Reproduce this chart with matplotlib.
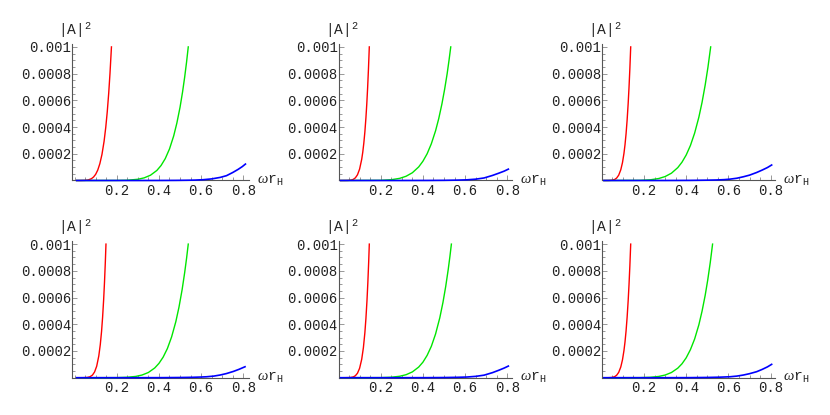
import matplotlib
matplotlib.use("Agg")
import matplotlib.pyplot as plt
from matplotlib.ticker import MultipleLocator, FixedLocator, FixedFormatter

plt.rcParams['font.family'] = ['Liberation Mono', 'DejaVu Sans']
plt.rcParams['mathtext.fontset'] = 'custom'
plt.rcParams['mathtext.rm'] = 'Liberation Mono'
plt.rcParams['mathtext.it'] = 'Liberation Serif:italic'

# ---------------- data ----------------
# Panel 1 (top left)
P1_RED_X = [0.01, 0.03, 0.05, 0.065, 0.08, 0.09, 0.10, 0.11, 0.12, 0.13, 0.14, 0.148, 0.155, 0.162, 0.168, 0.175]
P1_RED_Y = [0, 0.0000001, 0.000001, 0.0000043, 0.0000135, 0.0000258, 0.000046, 0.0000778, 0.000126, 0.000195,
            0.000293, 0.000398, 0.000513, 0.000654, 0.0008, 0.001]
P1_GRN_X = [0.01, 0.2, 0.25, 0.30, 0.33, 0.36, 0.39, 0.41, 0.43, 0.45, 0.47, 0.485, 0.50, 0.512, 0.522, 0.531, 0.539]
P1_GRN_Y = [0, 0.0000004, 0.000002, 0.0000092, 0.0000197, 0.0000396, 0.000075, 0.000112, 0.000164, 0.000236,
            0.000334, 0.00043, 0.000548, 0.000663, 0.000774, 0.000887, 0.001]
P1_BLU_X = [0.01, 0.30, 0.40, 0.48, 0.53, 0.57, 0.61, 0.65, 0.69, 0.72, 0.75, 0.775, 0.795, 0.81]
P1_BLU_Y = [0, 0, 0.0000002, 0.0000008, 0.0000018, 0.000003, 0.000006, 0.000012, 0.000023, 0.000036, 0.00006,
            0.000083, 0.000104, 0.000123]

# Panel 2 (top middle)
P2_RED_X = [0.01, 0.03, 0.045, 0.06, 0.07, 0.08, 0.09, 0.10, 0.11, 0.115, 0.12, 0.125, 0.13, 0.134, 0.138, 0.142, 0.146]
P2_RED_Y = [0, 0.0000001, 0.0000005, 0.0000031, 0.0000084, 0.00002, 0.000043, 0.0000854, 0.000159, 0.000212,
            0.00028, 0.000364, 0.00047, 0.000572, 0.000693, 0.000835, 0.001]
P2_GRN_X = [0.01, 0.2, 0.25, 0.29, 0.32, 0.35, 0.38, 0.40, 0.42, 0.44, 0.46, 0.475, 0.49, 0.503, 0.515, 0.524, 0.532]
P2_GRN_Y = [0, 0.0000013, 0.0000059, 0.000016, 0.0000316, 0.000058, 0.0001015, 0.000144, 0.0002, 0.000275,
            0.000372, 0.000463, 0.000572, 0.000683, 0.0008, 0.000902, 0.001]
P2_BLU_X = [0.01, 0.30, 0.42, 0.50, 0.56, 0.608, 0.65, 0.69, 0.73, 0.76, 0.785, 0.805]
P2_BLU_Y = [0, 0, 0.0000003, 0.0000012, 0.0000028, 0.000005, 0.00001, 0.000019, 0.000038, 0.000055, 0.00007, 0.000085]

# Panel 3 (top right)
P3_RED_X = [0.01, 0.03, 0.045, 0.06, 0.07, 0.08, 0.09, 0.098, 0.105, 0.11, 0.115, 0.12, 0.125, 0.129, 0.133, 0.137]
P3_RED_Y = [0, 0.0000001, 0.0000013, 0.000007, 0.0000178, 0.0000396, 0.0000805, 0.000134, 0.000203, 0.000268,
            0.00035, 0.000452, 0.000577, 0.000697, 0.000837, 0.001]
P3_GRN_X = [0.01, 0.18, 0.23, 0.27, 0.30, 0.33, 0.36, 0.38, 0.40, 0.42, 0.44, 0.46, 0.475, 0.49, 0.503, 0.516]
P3_GRN_Y = [0, 0.0000011, 0.0000052, 0.0000149, 0.0000295, 0.0000547, 0.0000963, 0.000137, 0.000191, 0.000262,
            0.000355, 0.000474, 0.000584, 0.000715, 0.000847, 0.001]
P3_BLU_X = [0.01, 0.30, 0.42, 0.50, 0.544, 0.58, 0.607, 0.64, 0.671, 0.70, 0.734, 0.76, 0.785, 0.805]
P3_BLU_Y = [0, 0, 0.0000008, 0.0000025, 0.000004, 0.0000065, 0.00001, 0.000017, 0.000028, 0.00004, 0.00006,
            0.000078, 0.000097, 0.000116]

# Panel 4 (bottom left)
P4_RED_X = [0.01, 0.03, 0.045, 0.06, 0.073, 0.085, 0.095, 0.105, 0.115, 0.122, 0.128, 0.133, 0.138, 0.142, 0.146, 0.149]
P4_RED_Y = [0, 0.0000001, 0.0000004, 0.0000017, 0.0000068, 0.0000197, 0.000043, 0.000086, 0.000163, 0.000247,
            0.000345, 0.000452, 0.000585, 0.000714, 0.000867, 0.001]
P4_GRN_X = [0.01, 0.2, 0.25, 0.29, 0.32, 0.35, 0.38, 0.40, 0.42, 0.44, 0.46, 0.48, 0.495, 0.51, 0.522, 0.531, 0.539]
P4_GRN_Y = [0, 0.0000006, 0.0000032, 0.0000096, 0.00002, 0.000039, 0.0000727, 0.000107, 0.000154, 0.000218,
            0.000305, 0.000419, 0.000528, 0.00066, 0.000787, 0.000894, 0.001]
P4_BLU_X = [0.01, 0.30, 0.42, 0.50, 0.56, 0.60, 0.626, 0.66, 0.69, 0.72, 0.753, 0.78, 0.808]
P4_BLU_Y = [0, 0, 0.0000004, 0.0000015, 0.000003, 0.000005, 0.000007, 0.000012, 0.00002, 0.000031, 0.000047,
            0.000063, 0.000082]

# Panel 5 (bottom middle)
P5_RED_X = [0.01, 0.03, 0.055, 0.07, 0.08, 0.09, 0.10, 0.11, 0.118, 0.125, 0.13, 0.135, 0.139, 0.143, 0.146]
P5_RED_Y = [0, 0.0000001, 0.0000011, 0.0000058, 0.0000148, 0.0000337, 0.0000707, 0.000138, 0.000225, 0.000337,
            0.000444, 0.000578, 0.000709, 0.000865, 0.001]
P5_GRN_X = [0.01, 0.2, 0.25, 0.29, 0.32, 0.35, 0.38, 0.40, 0.42, 0.44, 0.46, 0.48, 0.495, 0.508, 0.52, 0.528, 0.535]
P5_GRN_Y = [0, 0.0000007, 0.0000036, 0.0000108, 0.0000223, 0.0000433, 0.0000796, 0.000116, 0.000167, 0.000235,
            0.000327, 0.000448, 0.000563, 0.000682, 0.00081, 0.000907, 0.001]
P5_BLU_X = [0.01, 0.30, 0.42, 0.50, 0.56, 0.608, 0.65, 0.69, 0.73, 0.76, 0.785, 0.805]
P5_BLU_Y = [0, 0, 0.0000003, 0.0000012, 0.0000028, 0.000005, 0.00001, 0.000019, 0.000038, 0.000056, 0.000072, 0.000087]

# Panel 6 (bottom right)
P6_RED_X = [0.01, 0.03, 0.045, 0.06, 0.07, 0.08, 0.09, 0.098, 0.105, 0.11, 0.115, 0.12, 0.125, 0.129, 0.133, 0.137]
P6_RED_Y = [0, 0.0000001, 0.0000013, 0.000007, 0.0000178, 0.0000396, 0.0000805, 0.000134, 0.000203, 0.000268,
            0.00035, 0.000452, 0.000577, 0.000697, 0.000837, 0.001]
P6_GRN_X = [0.01, 0.18, 0.23, 0.27, 0.30, 0.33, 0.36, 0.38, 0.40, 0.42, 0.44, 0.46, 0.475, 0.49, 0.502, 0.514, 0.525]
P6_GRN_Y = [0, 0.0000006, 0.0000031, 0.0000095, 0.0000199, 0.0000388, 0.0000713, 0.000104, 0.000149, 0.00021,
            0.00029, 0.000396, 0.000497, 0.000617, 0.000731, 0.000862, 0.001]
P6_BLU_X = [0.01, 0.30, 0.42, 0.50, 0.56, 0.607, 0.64, 0.671, 0.70, 0.734, 0.76, 0.785, 0.805]
P6_BLU_Y = [0, 0, 0.0000005, 0.0000018, 0.000004, 0.000007, 0.000012, 0.00002, 0.00003, 0.000045, 0.000062,
            0.000081, 0.0001]

X_TICKS = [0.2, 0.4, 0.6, 0.8]
X_TICK_LABELS = ["0.2", "0.4", "0.6", "0.8"]
Y_TICKS = [0.0002, 0.0004, 0.0006, 0.0008, 0.001]
Y_TICK_LABELS = ["0.0002", "0.0004", "0.0006", "0.0008", "0.001"]
Y_LABEL = r'$\mathrm{|A|}^{2}$'
X_LABEL = r'$\omega\mathrm{r}_{\mathrm{H}}$'

PANELS = [
    (P1_RED_X, P1_RED_Y, P1_GRN_X, P1_GRN_Y, P1_BLU_X, P1_BLU_Y),
    (P2_RED_X, P2_RED_Y, P2_GRN_X, P2_GRN_Y, P2_BLU_X, P2_BLU_Y),
    (P3_RED_X, P3_RED_Y, P3_GRN_X, P3_GRN_Y, P3_BLU_X, P3_BLU_Y),
    (P4_RED_X, P4_RED_Y, P4_GRN_X, P4_GRN_Y, P4_BLU_X, P4_BLU_Y),
    (P5_RED_X, P5_RED_Y, P5_GRN_X, P5_GRN_Y, P5_BLU_X, P5_BLU_Y),
    (P6_RED_X, P6_RED_Y, P6_GRN_X, P6_GRN_Y, P6_BLU_X, P6_BLU_Y),
]

# ---------------- layout ----------------
W, H = 830, 415
fig = plt.figure(figsize=(W / 100, H / 100), dpi=100)

PX_PER_UNIT = 211.0
col_specs = [  # (left pixel of y axis, xmin, xmax)
    (72.0, -0.012, 0.828),
    (338.5, 0.0, 0.82),
    (601.8, 0.0, 0.82),
]
row_bottoms = [180.5, 377.7]  # pixel y of x axis
YMAX = 0.00102
Y_PX = 133.6 * 1.02

for i, (rx, ry, gx, gy, bx, by) in enumerate(PANELS):
    r, c = divmod(i, 3)
    left_px, xmin, xmax = col_specs[c]
    width_px = (xmax - xmin) * PX_PER_UNIT
    bottom_px = row_bottoms[r]
    ax = fig.add_axes([left_px / W, 1 - bottom_px / H, width_px / W, Y_PX / H])
    ax.set_xlim(xmin, xmax)
    ax.set_ylim(0, YMAX)
    ax.patch.set_visible(False)

    for s in ('top', 'right'):
        ax.spines[s].set_visible(False)
    for s in ('left', 'bottom'):
        ax.spines[s].set_color('#555555')
        ax.spines[s].set_linewidth(0.8)

    ax.plot(rx, ry, color=(1, 0, 0), lw=1.0, clip_on=False, zorder=3)
    ax.plot(gx, gy, color=(0, 0.9, 0), lw=1.0, clip_on=False, zorder=3)
    ax.plot(bx, by, color=(0, 0, 1), lw=1.2, clip_on=False, zorder=4)

    ax.xaxis.set_major_locator(FixedLocator(X_TICKS))
    ax.xaxis.set_major_formatter(FixedFormatter(X_TICK_LABELS))
    ax.xaxis.set_minor_locator(MultipleLocator(0.05))
    ax.yaxis.set_major_locator(FixedLocator(Y_TICKS))
    ax.yaxis.set_major_formatter(FixedFormatter(Y_TICK_LABELS))
    ax.yaxis.set_minor_locator(MultipleLocator(0.00005))

    ax.tick_params(which='both', direction='in', color='#888888', width=0.6,
                   labelsize=10, labelcolor='#222222')
    ax.tick_params(which='major', length=3.5)
    ax.tick_params(which='minor', length=2)
    ax.tick_params(axis='x', pad=2.5)
    ax.tick_params(axis='y', pad=0.5)

    ax.annotate(Y_LABEL, xy=(0, 1), xycoords='axes fraction',
                xytext=(3, 4), textcoords='offset pixels',
                ha='center', va='bottom', fontsize=10.5, color='#222222')
    ax.annotate(X_LABEL, xy=(1, 0), xycoords='axes fraction',
                xytext=(8, 0), textcoords='offset pixels',
                ha='left', va='center', fontsize=10.5, color='#222222')

fig.savefig("out.png", dpi=100)
